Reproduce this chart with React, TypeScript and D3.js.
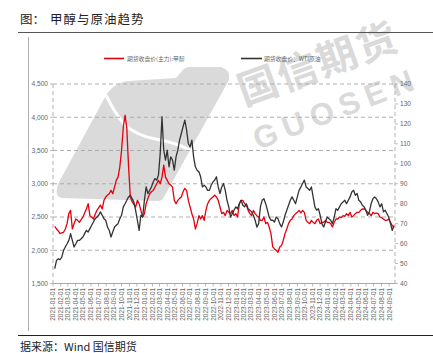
import React from "react";
import * as d3 from "d3";

const W = 433;
const H = 353;

// weekly observations, first week below
const firstWeek = "2021-01-08";

// 期货收盘价(主力):甲醇 (left axis, 元/吨)
const methanol = [
  2360, 2320, 2290, 2250, 2260, 2270, 2320, 2400, 2550, 2600,
  2320, 2400, 2470, 2450, 2420, 2460, 2500, 2560, 2620, 2700, 2520, 2500, 2470, 2540, 2600, 2640, 2680, 2620, 2750,
  2800, 2830, 2850, 2900, 2850, 2950, 3050, 3100, 3250, 3500, 3850, 4030, 3830, 3250, 2800, 2730, 2690, 2650, 2750, 2700,
  2600, 2500, 2550, 2700, 2780, 2850, 2880, 2900, 2950, 3000, 3050, 3000, 3100, 3280, 3100, 3050, 3000, 2980,
  2950, 2750, 2700, 2750, 2780, 2800, 2880, 2930, 2900, 2750, 2650, 2550, 2470, 2320, 2400, 2520, 2470, 2520, 2450,
  2600, 2700, 2750, 2780, 2800, 2830, 2800, 2750, 2650, 2550, 2570, 2520, 2600, 2570, 2550, 2600, 2520, 2550, 2500,
  2700, 2750, 2750, 2700, 2680, 2600, 2550, 2520, 2600, 2550, 2520, 2500, 2450, 2450, 2500, 2400, 2420, 2350, 2250,
  2050, 2020, 2000, 1970, 2050, 2070, 2150, 2250, 2320, 2400, 2450, 2470, 2520, 2550, 2570, 2600, 2560, 2600, 2570,
  2450, 2420, 2400, 2450, 2420, 2400, 2450, 2470, 2400, 2420, 2420, 2450, 2420, 2420, 2400, 2350, 2420, 2470, 2470,
  2500, 2490, 2520, 2510, 2550, 2520, 2570, 2500, 2520, 2550, 2570, 2570, 2600, 2620, 2620, 2600, 2570, 2550, 2520,
  2570, 2550, 2560, 2550, 2500, 2490, 2470, 2450, 2450, 2470, 2420, 2370, 2350,
];

// 期货收盘价：WTI原油 (right axis, 美元/桶)
const wti = [
  47.5, 51.6, 52.4, 51.9, 53.2, 56.6, 58.3, 59.9, 61.6, 65.0,
  61.6, 58.3, 59.9, 61.6, 61.6, 62.4, 63.3, 65.0, 66.6, 65.8, 67.5, 69.2, 70.8, 72.5, 73.3, 74.2, 75.9, 74.2, 72.5,
  71.7, 68.3, 66.6, 63.3, 65.8, 68.3, 69.2, 70.0, 72.5, 74.2, 78.4, 80.0, 81.7, 83.4, 84.2, 82.6, 80.9, 76.7, 71.7, 66.6,
  74.2, 73.3, 81.7, 88.4, 85.1, 86.7, 88.4, 90.9, 92.6, 91.8, 94.3, 105.2, 123.6, 106.8, 101.8, 106.8, 98.5, 103.5,
  101.8, 96.8, 103.5, 106.8, 111.9, 115.2, 118.6, 121.9, 116.9, 110.2, 108.5, 111.9, 103.5, 98.5, 96.8, 96.0, 93.5, 88.4, 89.3,
  88.4, 86.7, 86.7, 89.3, 90.9, 91.8, 93.5, 88.4, 85.1, 88.4, 90.1, 86.7, 81.7, 78.4, 73.3, 75.0, 76.7, 78.4, 77.5,
  80.0, 81.7, 79.2, 78.4, 80.0, 77.5, 76.7, 75.9, 74.2, 71.7, 68.3, 70.0, 78.4, 81.7, 82.5, 80.0, 76.7, 73.3, 71.7,
  71.7, 70.8, 73.3, 72.5, 70.0, 68.3, 70.8, 74.2, 76.7, 79.2, 81.7, 83.4, 81.7, 80.0, 83.4, 86.7, 88.4, 90.1, 91.8,
  88.4, 87.6, 86.7, 88.4, 83.4, 78.4, 76.7, 77.5, 74.2, 70.0, 68.3, 70.8, 73.3, 72.5, 71.7, 70.0, 73.3, 77.5, 76.7,
  78.4, 80.0, 80.9, 81.7, 80.0, 81.7, 83.4, 85.9, 86.7, 84.2, 85.1, 81.7, 80.9, 79.2, 78.4, 76.7, 74.2, 75.9, 80.0,
  82.5, 83.4, 82.5, 80.9, 78.4, 80.0, 75.9, 76.7, 75.0, 73.3, 70.0, 66.6, 69.1,
];

const leftTicks = [1500, 2000, 2500, 3000, 3500, 4000, 4500];
const rightTicks = [40, 50, 60, 70, 80, 90, 100, 110, 120, 130, 140];
const axisStart = "2021-01-01";
const axisEnd = "2024-09-24";
const firstLabel = "2021-01-01";
const lastLabel = "2024-09-01";
const seriesNames = ["期货收盘价(主力):甲醇", "期货收盘价：WTI原油"];
const titleLead = "图：";
const titleText = "甲醇与原油趋势";
const sourceText = "据来源：Wind 国信期货";
const watermarkCn = "国信期货";
const watermarkEn = "GUOSEN";

const RED = "#e3000f";
const DARK = "#333333";
const AXIS_TXT = "#666666";
const GRID = "#a8a8a8";
const WM = "#dadada";
const FONT = "'Liberation Sans', Arial, sans-serif";
const CJK = "'Noto Sans CJK SC', sans-serif";

export default function App() {
  const parse = d3.timeParse("%Y-%m-%d");
  const start = parse(firstWeek) as Date;
  const dates = methanol.map((_, i) => d3.timeDay.offset(start, 7 * i));

  const left = 53;
  const right = 395;
  const top = 84;
  const bottom = 283.5;

  const x = d3
    .scaleTime()
    .domain([parse(axisStart) as Date, parse(axisEnd) as Date])
    .range([left, right]);
  const yL = d3.scaleLinear().domain([1500, 4500]).range([bottom, top]);
  const yR = d3.scaleLinear().domain([40, 140]).range([bottom, top]);

  const months = d3.timeMonth.range(
    parse(firstLabel) as Date,
    d3.timeDay.offset(parse(lastLabel) as Date, 1)
  );
  const fmtDate = d3.timeFormat("%Y-%m-%d");
  const fmtL = d3.format(",");

  const lineL = d3
    .line<number>()
    .x((_, i) => x(dates[i]))
    .y((d) => yL(d))
    .curve(d3.curveLinear);
  const lineR = d3
    .line<number>()
    .x((_, i) => x(dates[i]))
    .y((d) => yR(d))
    .curve(d3.curveLinear);

  return (
    <svg
      width={W}
      height={H}
      viewBox={`0 0 ${W} ${H}`}
      style={{ position: "absolute", left: 0, top: 0, background: "#fff" }}
    >
      <rect x={0} y={0} width={W} height={H} fill="#fff" />

      {/* watermark */}
      <g>
        <path
          d="M62,198 L158,201 Q162,201 164,197 L229,80 Q231,70 221,67 L190,67 Q185,67 182,71 L176,78 L128,81 Q112,83 104,99 L58,184 Q54,197 62,198 Z"
          fill={WM}
        />
        <path
          d="M106,95 Q114,112 124,124 Q136,136 160,140 Q176,143 190,150"
          fill="none"
          stroke="#fff"
          strokeWidth={3}
        />
        <text
          transform="translate(244,106) rotate(-20)"
          fontFamily={CJK}
          fontWeight={700}
          fontSize={40}
          letterSpacing={2}
          fill={WM}
        >
          {watermarkCn}
        </text>
        <text
          transform="translate(258,150) rotate(-21)"
          fontFamily={FONT}
          fontWeight={700}
          fontSize={31}
          letterSpacing={7}
          fill={WM}
        >
          {watermarkEn}
        </text>
      </g>

      {/* frame lines */}
      <line x1={18} x2={433} y1={32.5} y2={32.5} stroke="#555" strokeWidth={1.2} />
      <line x1={28.5} x2={28.5} y1={37} y2={331} stroke="#b0b0b0" strokeWidth={1} />
      <line x1={18} x2={433} y1={335.5} y2={335.5} stroke="#222" strokeWidth={1.2} />

      {/* title */}
      <text x={20} y={24} fontFamily={CJK} fontSize={12.5} fill="#222">
        {titleLead}
      </text>
      <text x={50} y={24} fontFamily={CJK} fontSize={12.5} fill="#222" letterSpacing={1}>
        {titleText}
      </text>

      {/* gridlines */}
      {leftTicks
        .filter((t) => t !== 1500)
        .map((t) => (
          <line
            key={"g" + t}
            x1={left}
            x2={right}
            y1={yL(t)}
            y2={yL(t)}
            stroke={GRID}
            strokeWidth={0.9}
            strokeDasharray="4 3"
          />
        ))}
      <line x1={left} x2={left} y1={top} y2={bottom} stroke={GRID} strokeWidth={0.9} strokeDasharray="4 3" />
      <line x1={right} x2={right} y1={top} y2={bottom} stroke={GRID} strokeWidth={0.9} strokeDasharray="4 3" />
      <line x1={left} x2={right} y1={bottom} y2={bottom} stroke={GRID} strokeWidth={1} />

      {/* left axis */}
      {leftTicks.map((t) => (
        <g key={"l" + t}>
          <line x1={left - 3} x2={left} y1={yL(t)} y2={yL(t)} stroke={GRID} strokeWidth={0.8} />
          <text
            x={left - 5}
            y={yL(t) + 2.3}
            textAnchor="end"
            fontFamily={FONT}
            fontSize={6.6}
            fill={AXIS_TXT}
          >
            {fmtL(t)}
          </text>
        </g>
      ))}

      {/* right axis */}
      {rightTicks.map((t) => (
        <g key={"r" + t}>
          <line x1={right} x2={right + 3} y1={yR(t)} y2={yR(t)} stroke={GRID} strokeWidth={0.8} />
          <text x={right + 5} y={yR(t) + 2.3} fontFamily={FONT} fontSize={6.6} fill={AXIS_TXT}>
            {t}
          </text>
        </g>
      ))}

      {/* bottom axis */}
      {months.map((m) => (
        <g key={"m" + m.getTime()}>
          <line x1={x(m)} x2={x(m)} y1={bottom} y2={bottom + 3} stroke={GRID} strokeWidth={0.8} />
          <text
            transform={`translate(${x(m) + 2.3},${bottom + 4.5}) rotate(-90)`}
            textAnchor="end"
            fontFamily={FONT}
            fontSize={6.4}
            fill={AXIS_TXT}
          >
            {fmtDate(m)}
          </text>
        </g>
      ))}

      {/* series */}
      <path d={lineL(methanol) || ""} fill="none" stroke={RED} strokeWidth={1.3} strokeLinejoin="round" />
      <path d={lineR(wti) || ""} fill="none" stroke={DARK} strokeWidth={1.3} strokeLinejoin="round" />

      {/* legend */}
      <line x1={104} x2={124} y1={58.5} y2={58.5} stroke={RED} strokeWidth={1.6} />
      <text x={127} y={60.6} fontFamily={CJK} fontSize={5.8} fill={AXIS_TXT}>
        {seriesNames[0]}
      </text>
      <line x1={241} x2={262} y1={58.5} y2={58.5} stroke={DARK} strokeWidth={1.6} />
      <text x={264} y={60.6} fontFamily={CJK} fontSize={5.8} fill={AXIS_TXT}>
        {seriesNames[1]}
      </text>

      {/* source */}
      <text x={20} y={351} fontFamily={CJK} fontSize={11} fill="#222">
        {sourceText}
      </text>
    </svg>
  );
}
